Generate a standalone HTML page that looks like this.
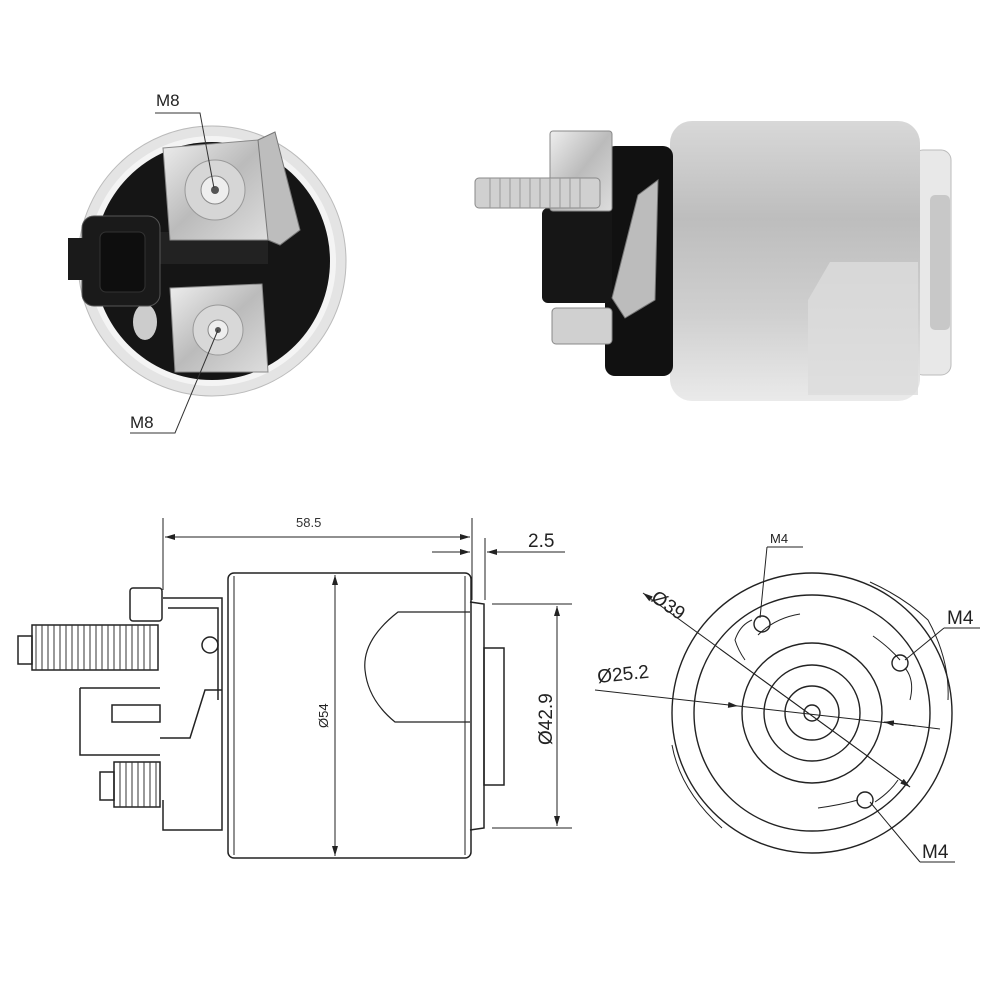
<!DOCTYPE html>
<html><head><meta charset="utf-8"><style>
html,body{margin:0;padding:0;background:#fff;}
svg{display:block;font-family:"Liberation Sans",sans-serif;}
</style></head><body>
<svg width="1000" height="1000" viewBox="0 0 1000 1000" xmlns="http://www.w3.org/2000/svg">
<defs>
<linearGradient id="cyl" x1="0" y1="0" x2="0" y2="1">
<stop offset="0" stop-color="#d8d8d8"/><stop offset="0.35" stop-color="#bdbdbd"/><stop offset="0.7" stop-color="#d0d0d0"/><stop offset="1" stop-color="#eaeaea"/></linearGradient>
<linearGradient id="met" x1="0" y1="0" x2="1" y2="1">
<stop offset="0" stop-color="#eee"/><stop offset="0.5" stop-color="#bbb"/><stop offset="1" stop-color="#ddd"/></linearGradient>
<marker id="ar" viewBox="0 0 10 6" refX="10" refY="3" markerWidth="10" markerHeight="6" orient="auto-start-reverse"><path d="M0,0 L10,3 L0,6z" fill="#222"/></marker>
</defs>

<!-- ===== Top-left end view ===== -->
<ellipse cx="212" cy="261" rx="134" ry="135" fill="#e4e4e4" stroke="#bbb"/>
<ellipse cx="212" cy="261" rx="124" ry="125" fill="#f4f4f4"/>
<ellipse cx="212" cy="261" rx="118" ry="119" fill="#151515"/>
<rect x="150" y="232" width="118" height="32" fill="#222"/>
<path d="M163,148 L258,140 L268,150 L268,240 L170,240 Z" fill="url(#met)" stroke="#888"/>
<circle cx="215" cy="190" r="30" fill="#d6d6d6" stroke="#999"/>
<circle cx="215" cy="190" r="14" fill="#eee" stroke="#888"/>
<circle cx="215" cy="190" r="4" fill="#555"/>
<path d="M258,140 L275,132 L300,230 L280,245 L268,240 Z" fill="#bdbdbd" stroke="#777"/>
<path d="M170,288 L262,284 L268,372 L175,372 Z" fill="url(#met)" stroke="#888"/>
<circle cx="218" cy="330" r="25" fill="#d8d8d8" stroke="#999"/>
<circle cx="218" cy="330" r="10" fill="#eee" stroke="#888"/>
<circle cx="218" cy="330" r="3" fill="#555"/>
<ellipse cx="145" cy="322" rx="12" ry="18" fill="#ccc"/>
<rect x="82" y="216" width="78" height="90" rx="12" fill="#1a1a1a" stroke="#555"/>
<rect x="68" y="238" width="20" height="42" fill="#1a1a1a"/>
<rect x="100" y="232" width="45" height="60" rx="6" fill="#0e0e0e" stroke="#333"/>
<text x="156" y="106" font-size="17" fill="#222">M8</text>
<path d="M155,113 L200,113 L214,188" fill="none" stroke="#333" stroke-width="1"/>
<text x="130" y="428" font-size="17" fill="#222">M8</text>
<path d="M130,433 L175,433 L218,330" fill="none" stroke="#333" stroke-width="1"/>

<!-- ===== Top-right side photo ===== -->
<rect x="913" y="150" width="38" height="225" rx="10" fill="#e8e8e8" stroke="#bbb"/>
<rect x="930" y="195" width="20" height="135" rx="5" fill="#c8c8c8"/>
<rect x="670" y="121" width="250" height="280" rx="22" fill="url(#cyl)"/>
<path d="M808,300 L830,262 L918,262 L918,395 L808,395 Z" fill="#dcdcdc" opacity="0.8"/>
<rect x="605" y="146" width="68" height="230" rx="10" fill="#111"/>
<rect x="542" y="208" width="70" height="95" rx="6" fill="#161616"/>
<rect x="550" y="131" width="62" height="80" rx="3" fill="url(#met)" stroke="#888"/>
<rect x="475" y="178" width="125" height="30" rx="4" fill="#d0d0d0" stroke="#888"/>
<g stroke="#999" stroke-width="1">
<line x1="490" y1="178" x2="490" y2="208"/><line x1="500" y1="178" x2="500" y2="208"/><line x1="510" y1="178" x2="510" y2="208"/><line x1="520" y1="178" x2="520" y2="208"/><line x1="530" y1="178" x2="530" y2="208"/><line x1="540" y1="178" x2="540" y2="208"/><line x1="550" y1="178" x2="550" y2="208"/><line x1="560" y1="178" x2="560" y2="208"/><line x1="570" y1="178" x2="570" y2="208"/><line x1="580" y1="178" x2="580" y2="208"/>
</g>
<rect x="552" y="308" width="60" height="36" rx="4" fill="#d0d0d0" stroke="#888"/>
<path d="M612,298 L638,195 L658,180 L655,300 L625,318 Z" fill="#bcbcbc" stroke="#777"/>

<!-- ===== Bottom-left drawing ===== -->
<g fill="none" stroke="#222" stroke-width="1.5">
<line x1="163" y1="518" x2="163" y2="590" stroke-width="1"/>
<line x1="472" y1="518" x2="472" y2="600" stroke-width="1"/>
<line x1="485" y1="538" x2="485" y2="600" stroke-width="1"/>
<line x1="165" y1="537" x2="470" y2="537" stroke-width="1" marker-start="url(#ar)" marker-end="url(#ar)"/>
<line x1="432" y1="552" x2="470" y2="552" stroke-width="1" marker-end="url(#ar)"/>
<line x1="565" y1="552" x2="487" y2="552" stroke-width="1" marker-end="url(#ar)"/>
<rect x="228" y="573" width="243" height="285" rx="6"/>
<line x1="234" y1="576" x2="234" y2="855" stroke-width="1"/>
<line x1="465" y1="576" x2="465" y2="855" stroke-width="1"/>
<path d="M470,602 L484,604 L484,828 L470,830" />
<rect x="484" y="648" width="20" height="137"/>
<path d="M470,612 L398,612 Q362,640 365,670 Q368,700 395,722 L470,722" stroke-width="1.2"/>
<line x1="335" y1="575" x2="335" y2="856" stroke-width="1" marker-start="url(#ar)" marker-end="url(#ar)"/>
<line x1="492" y1="604" x2="572" y2="604" stroke-width="1"/>
<line x1="492" y1="828" x2="572" y2="828" stroke-width="1"/>
<line x1="557" y1="606" x2="557" y2="826" stroke-width="1" marker-start="url(#ar)" marker-end="url(#ar)"/>
<!-- left hardware -->
<rect x="130" y="588" width="32" height="33" rx="3"/>
<path d="M163,598 L222,598 L222,830 L163,830 L163,800"/>
<path d="M168,608 L218,608 L218,700"/>
<path d="M160,738 L190,738 L205,690 L222,690"/>
<path d="M112,705 L160,705 L160,722 L112,722 Z"/>
<path d="M80,688 L160,688 M80,688 L80,755 L160,755"/>
<circle cx="210" cy="645" r="8"/>
<rect x="18" y="636" width="14" height="28"/>
<rect x="32" y="625" width="126" height="45"/>
<rect x="100" y="772" width="14" height="28"/>
<rect x="114" y="762" width="46" height="45"/>
</g>
<g stroke="#333" stroke-width="1">
<path d="M36,625 l0,45 M42,625 l0,45 M48,625 l0,45 M54,625 l0,45 M60,625 l0,45 M66,625 l0,45 M72,625 l0,45 M78,625 l0,45 M84,625 l0,45 M90,625 l0,45 M96,625 l0,45 M102,625 l0,45 M108,625 l0,45 M114,625 l0,45 M120,625 l0,45 M126,625 l0,45 M132,625 l0,45 M138,625 l0,45 M144,625 l0,45 M150,625 l0,45"/>
<path d="M120,762 l0,45 M126,762 l0,45 M132,762 l0,45 M138,762 l0,45 M144,762 l0,45 M150,762 l0,45 M156,762 l0,45"/>
</g>
<text x="296" y="527" font-size="13" fill="#333">58.5</text>
<text x="528" y="547" font-size="19" fill="#222">2.5</text>
<text transform="translate(328,728) rotate(-90)" font-size="13" fill="#222">Ø54</text>
<text transform="translate(552,745) rotate(-90)" font-size="19" fill="#222">Ø42.9</text>

<!-- ===== Bottom-right end view ===== -->
<g fill="none" stroke="#222" stroke-width="1.4">
<circle cx="812" cy="713" r="140"/>
<circle cx="812" cy="713" r="118"/>
<circle cx="812" cy="713" r="70"/>
<circle cx="812" cy="713" r="48"/>
<circle cx="812" cy="713" r="27"/>
<circle cx="812" cy="713" r="8"/>
<path d="M870,582 Q905,598 928,620 Q950,660 948,700" stroke-width="1"/>
<path d="M672,745 Q680,790 722,828" stroke-width="1"/>
<path d="M800,614 Q775,618 758,635 M752,620 Q740,625 735,640 Q738,650 745,660" stroke-width="1"/>
<circle cx="762" cy="624" r="8"/>
<path d="M873,636 Q890,648 900,660 M905,668 Q915,680 910,700" stroke-width="1"/>
<circle cx="900" cy="663" r="8"/>
<path d="M818,808 Q840,805 858,800 M875,802 Q890,792 898,780" stroke-width="1"/>
<circle cx="865" cy="800" r="8"/>
</g>
<g stroke="#222" stroke-width="1">
<line x1="643" y1="593" x2="910" y2="787" marker-start="url(#ar)"/>
<line x1="720" y1="649" x2="910" y2="787" marker-end="url(#ar)"/>
<line x1="595" y1="690" x2="738" y2="706" marker-end="url(#ar)"/>
<line x1="738" y1="706" x2="916" y2="726"/>
<line x1="940" y1="729" x2="884" y2="722" marker-end="url(#ar)"/>
<path d="M767,547 L803,547 M767,547 L760,618"/>
<path d="M944,628 L980,628 M944,628 L905,660"/>
<path d="M920,862 L955,862 M920,862 L870,802"/>
</g>
<text x="770" y="543" font-size="13" fill="#222">M4</text>
<text x="947" y="624" font-size="19" fill="#222">M4</text>
<text x="922" y="858" font-size="19" fill="#222">M4</text>
<text transform="translate(650,600) rotate(35)" font-size="19" fill="#222">Ø39</text>
<text x="598" y="683" font-size="19" fill="#222" transform="rotate(-6 598 683)">Ø25.2</text>
</svg>
</body></html>
